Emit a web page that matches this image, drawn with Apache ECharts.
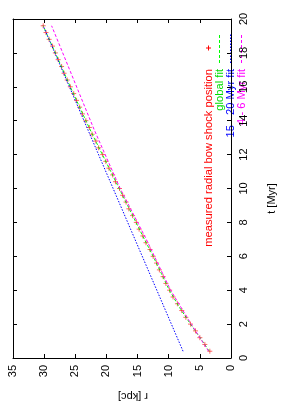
<!DOCTYPE html>
<html><head><meta charset="utf-8">
<script src="https://cdn.jsdelivr.net/npm/echarts@6/dist/echarts.min.js"></script>
<style>html,body{margin:0;padding:0;background:#fff}#c{width:285px;height:407px}</style>
</head><body><div id="c"></div>
<script>
// measured radial bow shock position (t in Myr, r in kpc)
const tMeasured = [0.4,0.8,1.2,1.6,2.0,2.4,2.8,3.2,3.6,4.0,4.4,4.8,5.2,5.6,6.0,6.4,6.8,7.2,7.6,8.0,8.4,8.8,9.2,9.6,10.0,10.4,10.8,11.2,11.6,12.0,12.4,12.8,13.2,13.6,14.0,14.4,14.8,15.2,15.6,16.0,16.4,16.8,17.2,17.6,18.0,18.4,18.8,19.2,19.6];
const rMeasured = [3.4,4.2,5.0,5.7,6.5,7.25,7.9,8.6,9.3,9.85,10.45,10.9,11.5,11.95,12.5,13.0,13.65,14.15,14.75,15.2,15.8,16.4,16.85,17.4,17.9,18.55,19.0,19.6,20.1,20.6,21.25,21.7,22.3,22.75,23.3,23.85,24.3,24.8,25.25,25.8,26.3,26.8,27.2,27.75,28.2,28.65,29.2,29.7,30.15];
// global fit
const tGlobal = [0.4,1,2,3,4,5,6,7,8,9,10,11,12,13,14,15,16,17,18,19,19.6];
const rGlobal = [3.5,4.6,6.5,8.3,9.9,11.2,12.5,13.9,15.25,16.6,17.95,19.3,20.65,22.0,23.3,24.55,25.8,27.0,28.2,29.45,30.15];
// 15 - 20 Myr fit
const tFit1520 = [0.4,19.6];
const rFit1520 = [7.7,30.15];
// 4 - 6 Myr fit
const tFit46 = [0.4,2,4,7,10,13.5,19.6];
const rFit46 = [3.6,6.4,9.7,13.6,17.8,22.0,28.8];
const legendLabels = ['measured radial bow shock position','global fit','15 - 20 Myr fit','4 - 6 Myr fit'];
const legendColors = ['#ff0000','#00dd00','#0000ff','#ff00ff'];
const lineColors = ['#ff0000','#00ff00','#0000ff','#ff00ff'];

const pairs = (rs, ts) => rs.map((r, i) => [r, ts[i]]);
const FONT = '"Liberation Sans", Arial, Helvetica, sans-serif';

const chart = echarts.init(document.getElementById('c'), null, {renderer: 'canvas'});

const axisCommon = {
  type: 'value',
  axisLine: {show: true, onZero: false, lineStyle: {color: '#000', width: 1}},
  axisTick: {show: true, inside: true, length: 4, lineStyle: {color: '#000', width: 1}},
  splitLine: {show: false}
};

const graphics = [];
const rowX = [208.5, 219.5, 230.5, 241.5];
legendLabels.forEach((txt, i) => {
  graphics.push({
    type: 'text', x: rowX[i], y: 69, rotation: Math.PI / 2,
    style: {text: txt, fill: legendColors[i], font: '11.2px ' + FONT,
      textAlign: 'right', textVerticalAlign: 'middle'}
  });
});
graphics.push({type: 'line', shape: {x1: rowX[0] - 2.5, y1: 48, x2: rowX[0] + 2.5, y2: 48}, style: {stroke: lineColors[0], lineWidth: 1}});
graphics.push({type: 'line', shape: {x1: rowX[0], y1: 45.5, x2: rowX[0], y2: 50.5}, style: {stroke: lineColors[0], lineWidth: 1}});
const dashes = [null, [3, 2], [1.5, 1.5], [3, 2]];
for (let i = 1; i < 4; i++) {
  graphics.push({type: 'line', shape: {x1: rowX[i], y1: 63, x2: rowX[i], y2: 33},
    style: {stroke: lineColors[i], lineWidth: 1, lineDash: dashes[i]}});
}

chart.setOption({
  animation: false,
  backgroundColor: '#fff',
  textStyle: {fontFamily: FONT},
  grid: {left: 13, right: 34, top: 19, bottom: 44, containLabel: false},
  xAxis: [
    Object.assign({}, axisCommon, {
      min: 0, max: 35, interval: 5, inverse: true, position: 'bottom',
      axisLabel: {rotate: 90, margin: 7, fontSize: 11, color: '#000', fontFamily: FONT},
      name: 'r [kpc]', nameLocation: 'middle', nameRotate: 180, nameGap: 33,
      nameTextStyle: {fontSize: 11, color: '#000', fontFamily: FONT, padding: [0, 22, 0, 0]}
    }),
    Object.assign({}, axisCommon, {
      min: 0, max: 35, interval: 5, inverse: true, position: 'top',
      axisLabel: {show: false}
    })
  ],
  yAxis: [
    Object.assign({}, axisCommon, {
      min: 0, max: 20, interval: 2, position: 'right',
      axisLabel: {rotate: 90, margin: 7, fontSize: 11, color: '#000', fontFamily: FONT},
      name: 't [Myr]', nameLocation: 'middle', nameRotate: 90, nameGap: 35,
      nameTextStyle: {fontSize: 11, color: '#000', fontFamily: FONT, padding: [0, 20, 0, 0]}
    }),
    Object.assign({}, axisCommon, {
      min: 0, max: 20, interval: 2, position: 'left',
      axisLabel: {show: false}
    })
  ],
  series: [
    {
      name: legendLabels[0], type: 'scatter', data: pairs(rMeasured, tMeasured),
      symbol: 'path://M0,5L10,5M5,0L5,10', symbolSize: 5,
      itemStyle: {color: lineColors[0], borderColor: 'rgba(255,0,0,0.75)', borderWidth: 1},
      z: 2
    },
    {
      name: legendLabels[1], type: 'line', data: pairs(rGlobal, tGlobal), showSymbol: false, symbol: 'none',
      lineStyle: {color: lineColors[1], width: 1, type: [3, 2]}, z: 3
    },
    {
      name: legendLabels[2], type: 'line', data: pairs(rFit1520, tFit1520), showSymbol: false, symbol: 'none',
      lineStyle: {color: lineColors[2], width: 1, type: [1.5, 1.5]}, z: 4
    },
    {
      name: legendLabels[3], type: 'line', data: pairs(rFit46, tFit46), showSymbol: false, symbol: 'none',
      lineStyle: {color: lineColors[3], width: 1, type: [3, 2]}, z: 5
    }
  ],
  graphic: graphics
});
</script></body></html>
